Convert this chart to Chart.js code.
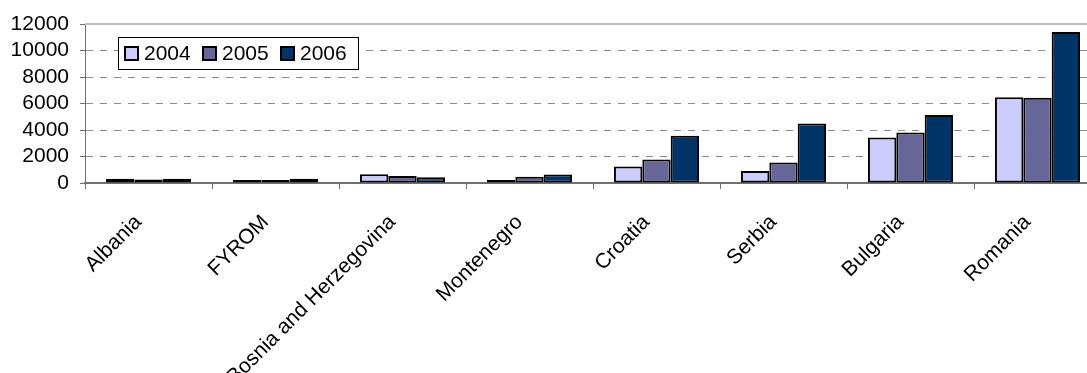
<!DOCTYPE html>
<html>
<head>
<meta charset="utf-8"/>
<title>Bar chart 2004-2006</title>
<script src="https://cdn.jsdelivr.net/npm/chart.js@4.4.1/dist/chart.umd.min.js"></script>
<style>
html, body { margin: 0; padding: 0; background: #fff; overflow: hidden; }
#wrap { width: 1101px; height: 373px; }
</style>
</head>
<body>
<div id="wrap"><canvas id="chart" width="1101" height="373"></canvas></div>
<script>
var countries = ['Albania', 'FYROM', 'Bosnia and Herzegovina', 'Montenegro', 'Croatia', 'Serbia', 'Bulgaria', 'Romania'];
var years = ['2004', '2005', '2006'];
var v2004 = [330, 130, 660, 50, 1240, 910, 3440, 6480];
var v2005 = [260, 50, 530, 480, 1770, 1550, 3820, 6440];
var v2006 = [330, 330, 430, 640, 3560, 4500, 5130, 11400];
var yTicks = [0, 2000, 4000, 6000, 8000, 10000, 12000];
var colors = ['#CCCCFF', '#666699', '#003366'];

var FONT = '"Liberation Sans", Arial, sans-serif';

// legend box drawn inside the plot area, like the original
var boxLegend = {
  id: 'boxLegend',
  afterDraw: function(chart){
    var ctx = chart.ctx;
    var a = chart.chartArea;
    var x = a.left + 33, y = a.top + 13, w = 240, h = 32;
    ctx.save();
    ctx.fillStyle = '#fff';
    ctx.fillRect(x, y, w, h);
    ctx.strokeStyle = '#000';
    ctx.lineWidth = 1;
    ctx.strokeRect(x + 0.5, y + 0.5, w, h);
    ctx.font = '21px ' + FONT;
    ctx.textBaseline = 'middle';
    var cx = x + 7;
    chart.data.datasets.forEach(function(ds){
      ctx.fillStyle = ds.backgroundColor;
      ctx.fillRect(cx, y + 10, 13, 13);
      ctx.strokeStyle = '#000';
      ctx.lineWidth = 2;
      ctx.strokeRect(cx, y + 10, 13, 13);
      ctx.fillStyle = '#000';
      ctx.fillText(ds.label, cx + 19, y + 17);
      cx += 78;
    });
    ctx.restore();
  }
};

// solid light top line of the plot area
var topLine = {
  id: 'topLine',
  beforeDatasetsDraw: function(chart){
    var ctx = chart.ctx;
    var a = chart.chartArea;
    ctx.save();
    ctx.strokeStyle = '#c0c0c0';
    ctx.lineWidth = 2;
    ctx.beginPath();
    ctx.moveTo(a.left, a.top);
    ctx.lineTo(a.right, a.top);
    ctx.stroke();
    ctx.restore();
  }
};

var datasets = [v2004, v2005, v2006].map(function(vals, i){
  return {
    label: years[i],
    data: vals,
    backgroundColor: colors[i],
    borderColor: '#000',
    borderWidth: 2,
    borderSkipped: false,
    minBarLength: 3,
    categoryPercentage: 0.67,
    barPercentage: 1.0
  };
});

new Chart(document.getElementById('chart'), {
  type: 'bar',
  data: { labels: countries, datasets: datasets },
  options: {
    responsive: false,
    animation: false,
    layout: { padding: { top: 24, left: 0, right: 0, bottom: 0 } },
    plugins: { legend: { display: false }, tooltip: { enabled: false } },
    scales: {
      x: {
        grid: { drawOnChartArea: false, drawTicks: true, tickLength: 6, offset: true, color: '#707070', lineWidth: 1 },
        border: { display: true, color: '#707070', width: 2 },
        ticks: {
          color: '#000',
          font: { family: FONT, size: 21 },
          minRotation: 45,
          maxRotation: 45,
          autoSkip: false,
          padding: 21,
          labelOffset: -10
        },
        afterFit: function(scale){ scale.height = 190; }
      },
      y: {
        min: 0,
        max: 12000,
        afterBuildTicks: function(scale){
          scale.ticks = yTicks.map(function(v){ return { value: v }; });
        },
        grid: {
          color: function(c){ return (c.tick && (c.tick.value === 12000 || c.tick.value === 0)) ? 'rgba(0,0,0,0)' : '#8c8c8c'; },
          tickColor: '#707070',
          tickLength: 5,
          tickBorderDash: [1, 0],
          lineWidth: 1
        },
        border: { display: true, color: '#707070', width: 1, dash: [7, 7] },
        ticks: {
          color: '#000',
          font: { family: FONT, size: 21 },
          padding: 11,
          autoSkip: false,
          callback: function(v){ return String(v); }
        },
        afterFit: function(scale){ scale.width = 85; }
      }
    }
  },
  plugins: [topLine, boxLegend]
});
</script>
</body>
</html>
